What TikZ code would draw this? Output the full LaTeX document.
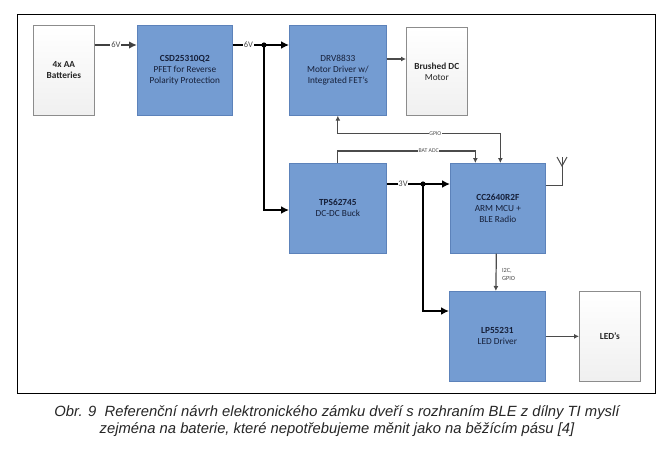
\documentclass[tikz,border=0pt]{standalone}
\usepackage{fontspec}
\setmainfont{Carlito}
\newfontfamily\capfont{Liberation Sans}
\usetikzlibrary{arrows.meta}
\definecolor{boxblue}{RGB}{116,156,210}
\definecolor{boxblueedge}{RGB}{92,130,186}
\definecolor{txtblue}{RGB}{22,32,58}
\definecolor{wireg}{RGB}{75,75,75}
\definecolor{whiteedge}{RGB}{140,140,140}
\begin{document}
\begin{tikzpicture}[x=1pt,y=-1pt,
  boxbase/.style={inner sep=0pt, anchor=north west, align=center,
    font=\fontsize{9.3}{11}\selectfont},
  bluebox/.style={boxbase, draw=boxblueedge, fill=boxblue, line width=0.7pt, text=txtblue},
  whitebox/.style={boxbase, draw=whiteedge, top color=white, bottom color=black!6, line width=0.7pt, text=black!85},
  pwr/.style={line width=2.8pt, black, -{Latex[length=8pt,width=8pt]}},
  batline/.style={line width=2.4pt, black!75, -{Latex[length=8pt,width=7.5pt]}},
  sig/.style={line width=1.2pt, wireg, -{Latex[length=5pt,width=5pt]}},
  sigline/.style={line width=1.2pt, wireg},
  vlab/.style={fill=white, inner sep=0.8pt, font=\fontsize{8.5}{8.5}\selectfont, text=black!70},
  tinylab/.style={fill=white, inner sep=0.6pt, font=\fontsize{5.8}{5.8}\selectfont, text=black!70},
]
\useasboundingbox (0,0) rectangle (665,453);
\fill[white] (0,0) rectangle (665,453);
\draw[line width=1pt] (17,14) rectangle (655,393);

% boxes
\node[whitebox, minimum width=61, minimum height=90] (bat) at (33,25) {\textbf{4x AA}\\\textbf{Batteries}};
\node[bluebox, minimum width=95, minimum height=90] (csd) at (137,25) {\textbf{CSD25310Q2}\\PFET for Reverse\\Polarity Protection};
\node[bluebox, minimum width=97, minimum height=90] (drv) at (289,25) {DRV8833\\Motor Driver w/\\Integrated FET's};
\node[whitebox, minimum width=61, minimum height=88] (mot) at (406,27) {\textbf{Brushed DC}\\Motor};
\node[bluebox, minimum width=97, minimum height=90] (tps) at (289,163) {\textbf{TPS62745}\\DC-DC Buck};
\node[bluebox, minimum width=95, minimum height=90] (cc) at (450,163) {\textbf{CC2640R2F}\\ARM MCU +\\BLE Radio};
\node[bluebox, minimum width=96, minimum height=90] (lp) at (449,291) {\textbf{LP55231}\\LED Driver};
\node[whitebox, minimum width=61, minimum height=90] (led) at (579,291) {\textbf{LED's}};

% power connections
\draw[batline] ([yshift=-20pt]bat.north east) -- node[vlab]{6V} ([yshift=-20pt]csd.north west);
\coordinate (j1) at (264,45);
\draw[pwr] ([yshift=-20pt]csd.north east) -- node[vlab, pos=0.5]{6V} (j1) -- ([yshift=-20pt]drv.north west);
\draw[pwr] (j1) |- ([yshift=-47pt]tps.north west);
\fill (j1) circle (2.6);

\coordinate (j2) at (423,184);
\draw[pwr] ([yshift=-21pt]tps.north east) -- node[vlab, pos=0.45]{3V} (j2) -- ([yshift=-21pt]cc.north west);
\draw[pwr] (j2) |- ([yshift=-20pt]lp.north west);
\fill (j2) circle (2.6);

% signals
\draw[sig] ([yshift=-34pt]drv.north east) -- ([yshift=-32pt]mot.north west);
\draw[sigline, {Latex[length=5pt,width=5pt]}-{Latex[length=5pt,width=5pt]}]
  (drv.south) -- ++(0,18) -| node[tinylab, pos=0.3]{GPIO} ([xshift=2.5pt]cc.north);
\draw[sig] (tps.north) -- ++(0,-12) -| node[tinylab, pos=0.33]{BAT ADC} ([xshift=-22.5pt]cc.north);
\draw[sig] ([xshift=-1.5pt]cc.south) -- node[right, font=\fontsize{6.3}{7.5}\selectfont, text=black!70, align=left, xshift=2pt, yshift=-2pt]{I2C,\\GPIO} ([xshift=-1.5pt]lp.north);
\draw[sig] (lp.east) -- (led.west);

% antenna
\coordinate (ant) at (562,157);
\draw[sigline, line width=1pt] ([yshift=-22pt]cc.north east) -| (ant);
\draw[sigline, line width=1pt] (557,157) -- (562,166) -- (567,157);

% caption
\node[font=\capfont\itshape\fontsize{14.8}{17.5}\selectfont, align=center, text=black!85] (cap) at (337,421)
  {Obr. 9\ \ Referenční návrh elektronického zámku dveří s rozhraním BLE z dílny TI myslí\\zejména na baterie, které nepotřebujeme měnit jako na běžícím pásu [4]};
\end{tikzpicture}
\end{document}
